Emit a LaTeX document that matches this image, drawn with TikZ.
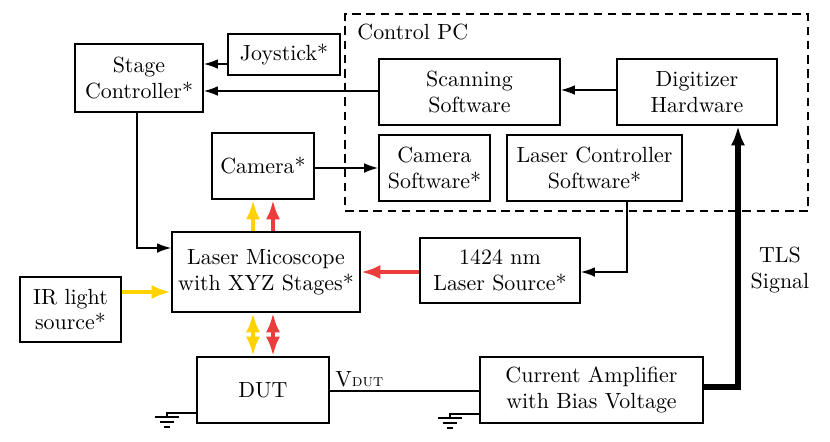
\documentclass[tikz,border=0pt]{standalone}
\usetikzlibrary{arrows.meta,fit}
\begin{document}
\begin{tikzpicture}[x=0.465pt,y=-0.465pt,
  box/.style={draw, line width=0.9pt, inner sep=0pt},
  lbl/.style={font=\fontsize{10.2}{12}\selectfont, align=center, inner sep=0pt},
  conn/.style={line width=0.6pt, -{Latex[length=6.5pt,width=4.5pt]}},
  plain/.style={line width=0.6pt},
  ylw/.style={draw={rgb,255:red,255;green,210;blue,0}, line width=2pt, -{Latex[length=9pt,width=6.5pt]}},
  rd/.style={draw={rgb,255:red,236;green,60;blue,60}, line width=2pt, -{Latex[length=9pt,width=6.5pt]}},
  ylw2/.style={draw={rgb,255:red,255;green,210;blue,0}, line width=2pt, {Latex[length=9pt,width=6.5pt]}-{Latex[length=9pt,width=6.5pt]}},
  rd2/.style={draw={rgb,255:red,236;green,60;blue,60}, line width=2pt, {Latex[length=9pt,width=6.5pt]}-{Latex[length=9pt,width=6.5pt]}},
  gnd/.style={line width=0.6pt}
]
\useasboundingbox (0,0) rectangle (830,441);

% Control PC dashed box
\node[draw, dash pattern=on 4pt off 2.6pt, line width=0.8pt, inner sep=0pt, fit={(345,14) (808,211)}] (pc) {};
\node[lbl, anchor=west] (pclbl) at (357,32) {Control PC};

% boxes
\node[box, fit={(75,44) (203,112)}] (sc) {};
\node[lbl] (sct) at (sc.center) {Stage\\Controller*};
\node[box, fit={(228,34) (340,75)}] (joy) {};
\node[lbl] (joyt) at (joy.center) {Joystick*};
\node[box, fit={(379,59) (560,125)}] (scan) {};
\node[lbl] (scant) at (scan.center) {Scanning\\Software};
\node[box, fit={(617,59) (777,125)}] (dig) {};
\node[lbl] (digt) at (dig.center) {Digitizer\\Hardware};
\node[box, fit={(212,133) (314,199)}] (cam) {};
\node[lbl] (camt) at (cam.center) {Camera*};
\node[box, fit={(379,135) (490,201)}] (camsw) {};
\node[lbl] (camswt) at (camsw.center) {Camera\\Software*};
\node[box, fit={(507,135) (682,201)}] (lcsw) {};
\node[lbl] (lcswt) at (lcsw.center) {Laser Controller\\Software*};
\node[box, fit={(172,232) (360,312)}] (mic) {};
\node[lbl] (mict) at (mic.center) {Laser Micoscope\\with XYZ Stages*};
\node[box, fit={(420,238) (580,303)}] (ls) {};
\node[lbl] (lst) at (ls.center) {1424 nm\\Laser Source*};
\node[box, fit={(20,277) (121,342)}] (ir) {};
\node[lbl] (irt) at (ir.center) {IR light\\source*};
\node[box, fit={(197,357) (329,423)}] (dut) {};
\node[lbl] (dutt) at (dut.center) {DUT};
\node[box, fit={(480,357) (703,423)}] (amp) {};
\node[lbl] (ampt) at (amp.center) {Current Amplifier\\with Bias Voltage};

% helper coordinates
\coordinate (j1) at (0,64);
\coordinate (s1) at (0,91);
\coordinate (d1) at (0,90);
\coordinate (scx) at (137,248);
\coordinate (c1) at (0,168);
\coordinate (lcx) at (627,272);
\coordinate (r1) at (0,272);
\coordinate (y1) at (0,292);
\coordinate (xa) at (253,0);
\coordinate (xb) at (273,0);
\coordinate (v1) at (0,391);
\coordinate (tls) at (738,387);

% black connectors
\draw[conn] (joy.west |- j1) -- (sc.east |- j1);
\draw[conn] (scan.west |- s1) -- (sc.east |- s1);
\draw[conn] (dig.west |- d1) -- (scan.east |- d1);
\draw[conn] (sc.south -| scx) -- (scx) -- (mic.west |- scx);
\draw[conn] (cam.east |- c1) -- (camsw.west |- c1);
\draw[conn] (lcsw.south -| lcx) -- (lcx) -- (ls.east |- lcx);
\draw[plain] (dut.east |- v1) -- (amp.west |- v1);
\node[lbl, anchor=south west] (vdut) at (335,387) {V{\footnotesize\textsc{dut}}};
\draw[line width=2.4pt, -{Latex[length=9pt,width=6.5pt]}] (amp.east |- tls) -- (tls) -- (dig.south -| tls);
\node[lbl] (tlslbl) at (780,270) {TLS\\Signal};

% coloured arrows
\draw[rd] (ls.west |- r1) -- (mic.east |- r1);
\draw[ylw] (ir.east |- y1) -- (mic.west |- y1);
\draw[ylw] (mic.north -| xa) -- (cam.south -| xa);
\draw[rd] (mic.north -| xb) -- (cam.south -| xb);
\draw[ylw2] (mic.south -| xa) -- (dut.north -| xa);
\draw[rd2] (mic.south -| xb) -- (dut.north -| xb);

% grounds
\coordinate (g1) at (167,413);
\draw[gnd] (dut.west |- g1) -- (g1) -- ++(0,4);
\draw[gnd] (155,417) -- (179,417) (160,422) -- (174,422) (164,427) -- (170,427);
\coordinate (g2) at (450,414);
\draw[gnd] (amp.west |- g2) -- (g2) -- ++(0,4);
\draw[gnd] (438,418) -- (462,418) (443,423) -- (457,423) (447,428) -- (453,428);
\end{tikzpicture}
\end{document}
